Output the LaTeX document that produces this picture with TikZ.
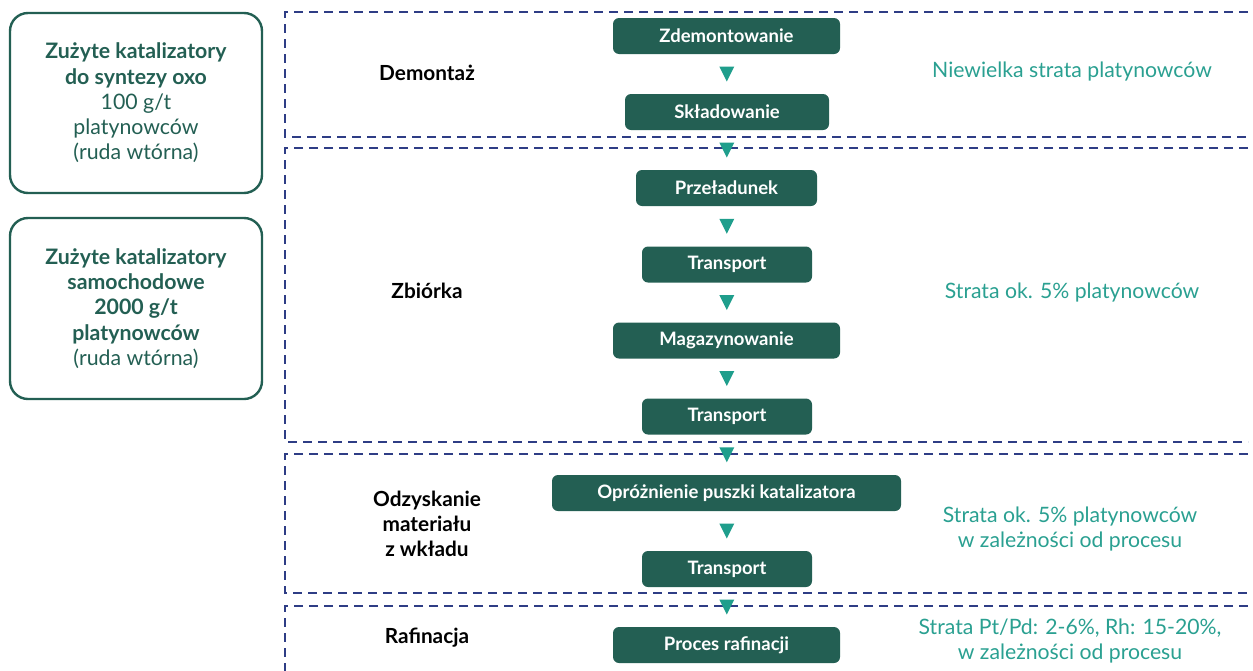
\documentclass[tikz,border=0pt]{standalone}
\usepackage{fontspec}
\setmainfont{Lato}
\usetikzlibrary{calc}
\definecolor{dkgreen}{HTML}{235F53}
\definecolor{tealtri}{HTML}{1F9E8C}
\definecolor{tealtxt}{HTML}{2AA091}
\definecolor{navy}{HTML}{2E3D85}
\tikzset{
  gbox/.style={fill=dkgreen, rounded corners=6pt, text=white, inner sep=0pt,
    minimum height=36pt, font=\bfseries\fontsize{18.5}{20}\selectfont},
  srcbox/.style={draw=dkgreen, line width=2.4pt, rounded corners=18pt, text=dkgreen,
    inner sep=0pt, minimum width=252pt, align=center, font=\fontsize{21.3}{25.3}\selectfont},
  stagelbl/.style={text=black, align=center, font=\bfseries\fontsize{20.8}{25}\selectfont},
  losstxt/.style={text=tealtxt, align=center, font=\fontsize{21.2}{25.5}\selectfont},
  frame/.style={draw=navy, line width=1.3pt, dash pattern=on 9pt off 6pt},
  tri/.pic={\fill[tealtri] (-7.5,-7.5) -- (7.5,-7.5) -- (0,7.5) -- cycle;}
}
\begin{document}
\begin{tikzpicture}[x=1pt,y=-1pt]
\useasboundingbox (0,0) rectangle (1253,670);
% source boxes
\node[srcbox, minimum height=180pt] (src1) at (136,103)
  {\textbf{Zużyte katalizatory}\\\textbf{do syntezy oxo}\\100 g/t\\platynowców\\(ruda wtórna)};
\node[srcbox, minimum height=181pt] (src2) at (136,308.5)
  {\textbf{Zużyte katalizatory}\\\textbf{samochodowe}\\\textbf{2000 g/t}\\\textbf{platynowców}\\(ruda wtórna)};
% dashed stage frames
\draw[frame] (1248,12) -- (285,12) -- (285,137) -- (1248,137);
\draw[frame] (1248,148) -- (285,148) -- (285,442) -- (1248,442);
\draw[frame] (1248,454) -- (285,454) -- (285,593) -- (1248,593);
\draw[frame] (1248,606) -- (285,606) -- (285,672);
% stage labels
\node[stagelbl] (l1) at (427,73) {Demontaż};
\node[stagelbl] (l2) at (427,291) {Zbiórka};
\node[stagelbl] (l3) at (427,524) {Odzyskanie\\materiału\\z wkładu};
\node[stagelbl] (l4) at (427,638) {Rafinacja};
% process steps
\node[gbox, minimum width=227pt] (s1) at (726.5,36) {Zdemontowanie};
\node[gbox, minimum width=204pt] (s2) at (727,112) {Składowanie};
\node[gbox, minimum width=181pt] (s3) at (726.5,188) {Przeładunek};
\node[gbox, minimum width=170pt] (s4) at (727,264.5) {Transport};
\node[gbox, minimum width=227pt] (s5) at (726.5,340.5) {Magazynowanie};
\node[gbox, minimum width=170pt] (s6) at (727,416.5) {Transport};
\node[gbox, minimum width=349pt] (s7) at (726.5,493) {Opróżnienie puszki katalizatora};
\node[gbox, minimum width=170pt] (s8) at (727,569) {Transport};
\node[gbox, minimum width=227pt] (s9) at (726.5,645) {Proces rafinacji};
% arrow triangles
\foreach \a/\b in {s1/s2,s2/s3,s3/s4,s4/s5,s5/s6,s6/s7,s7/s8,s8/s9}{
  \path (\a.south) -- (\b.north) coordinate[midway] (m\a);
  \pic at (m\a) {tri};
}
% loss notes
\node[losstxt] (n1) at (1072,72) {Niewielka strata platynowców};
\node[losstxt] (n2) at (1072,293) {Strata ok. 5\% platynowców};
\node[losstxt] (n3) at (1070,529) {Strata ok. 5\% platynowców\\w zależności od procesu};
\node[losstxt] (n4) at (1070,641) {Strata Pt/Pd: 2-6\%, Rh: 15-20\%,\\w zależności od procesu};
\end{tikzpicture}
\end{document}
